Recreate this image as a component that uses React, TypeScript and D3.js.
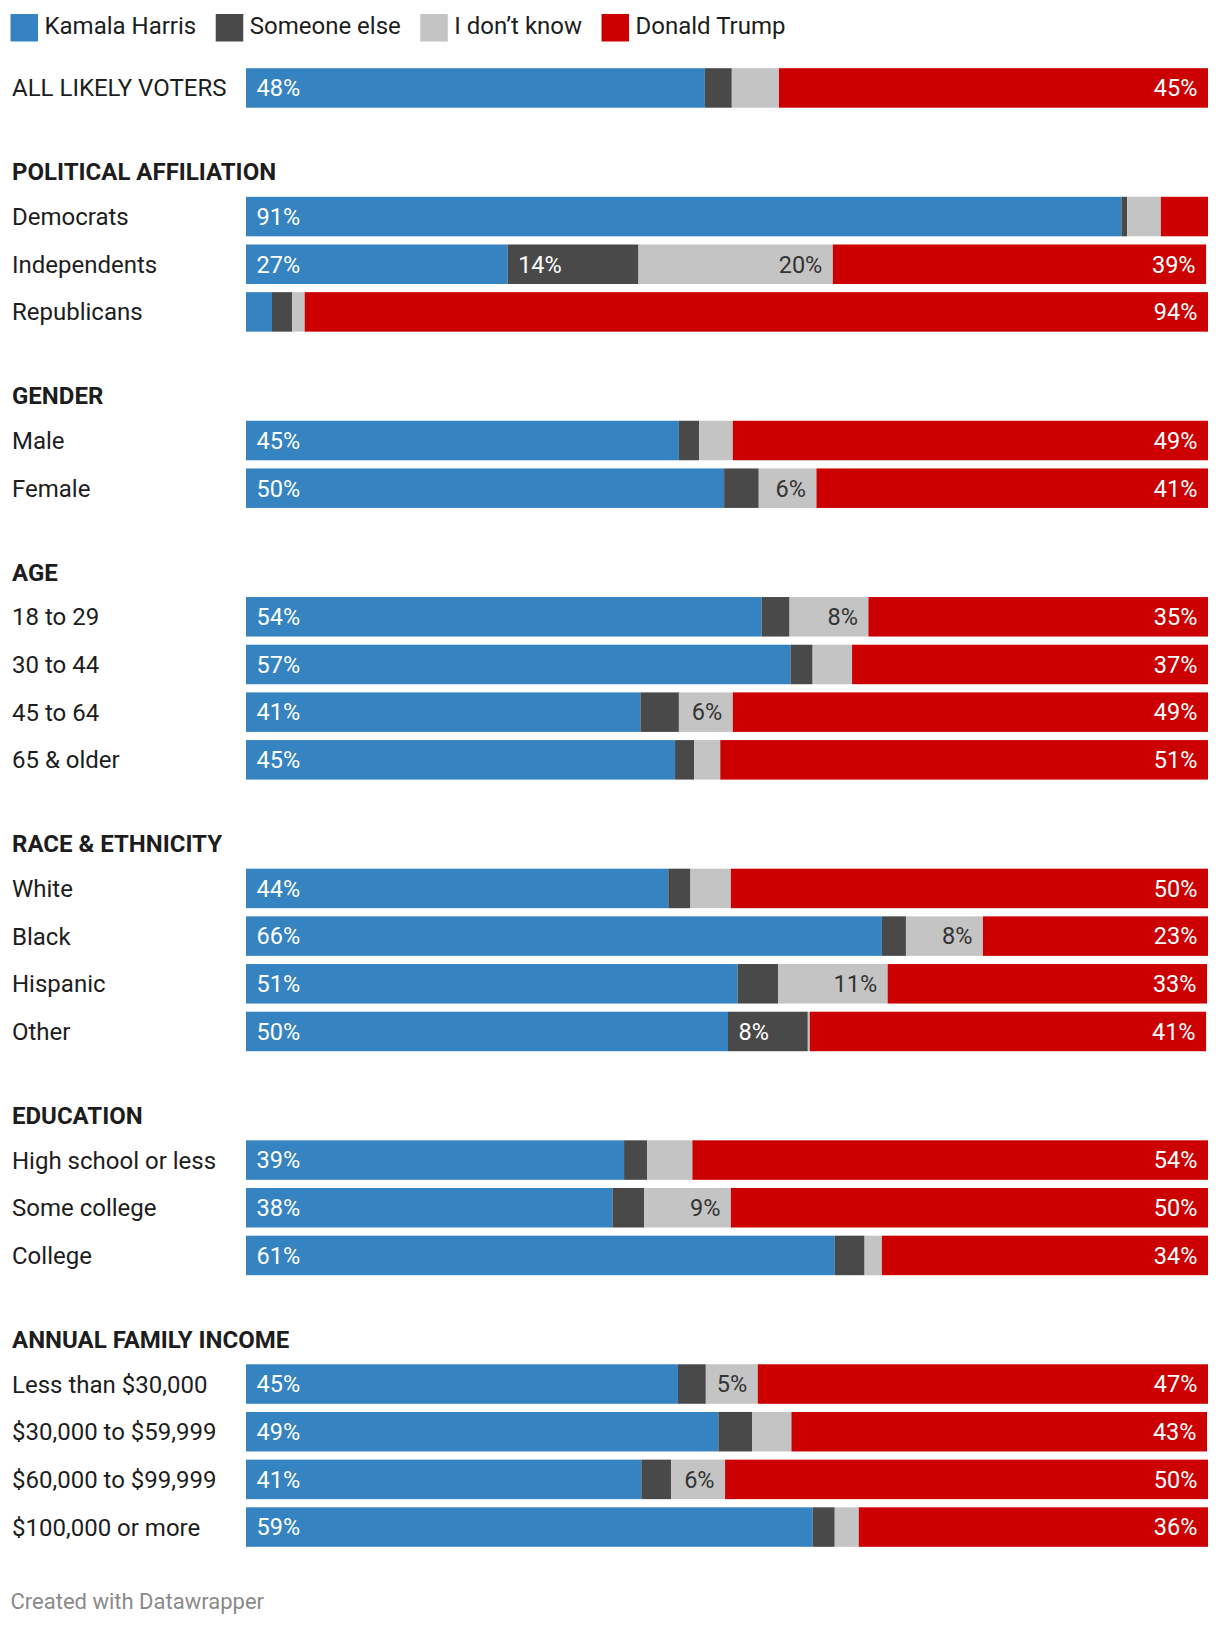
import React, { useEffect, useRef } from "react";
import * as d3 from "d3";

const seriesNames = ["Kamala Harris", "Someone else", "I don’t know", "Donald Trump"];
const seriesColors = ["#3583c1", "#494949", "#c4c4c4", "#cc0000"];
const labelColors = ["#ffffff", "#ffffff", "#333333", "#ffffff"];
const labelAlign = ["start", "start", "end", "end"];

const groupTitles = [
  "",
  "POLITICAL AFFILIATION",
  "GENDER",
  "AGE",
  "RACE & ETHNICITY",
  "EDUCATION",
  "ANNUAL FAMILY INCOME",
];

const categories = [
  "ALL LIKELY VOTERS",
  "Democrats",
  "Independents",
  "Republicans",
  "Male",
  "Female",
  "18 to 29",
  "30 to 44",
  "45 to 64",
  "65 & older",
  "White",
  "Black",
  "Hispanic",
  "Other",
  "High school or less",
  "Some college",
  "College",
  "Less than $30,000",
  "$30,000 to $59,999",
  "$60,000 to $99,999",
  "$100,000 or more",
];

const categoryGroup = [0, 1, 1, 1, 2, 2, 3, 3, 3, 3, 4, 4, 4, 4, 5, 5, 5, 6, 6, 6, 6];

const harris = [47.7, 91.0, 27.2, 2.7, 45.0, 49.7, 53.6, 56.6, 41.0, 44.6, 43.9, 66.1, 51.1, 50.1, 39.3, 38.1, 61.2, 44.9, 49.1, 41.1, 58.9];
const someoneElse = [2.8, 0.6, 13.6, 2.1, 2.1, 3.6, 2.9, 2.3, 4.0, 2.0, 2.3, 2.5, 4.2, 8.3, 2.4, 3.3, 3.1, 2.9, 3.5, 3.1, 2.3];
const dontKnow = [4.9, 3.5, 20.2, 1.3, 3.5, 6.0, 8.2, 4.1, 5.6, 2.7, 4.2, 8.0, 11.4, 0.2, 4.7, 9.0, 1.8, 5.4, 4.1, 5.6, 2.5];
const trump = [44.6, 4.9, 38.8, 93.9, 49.4, 40.7, 35.3, 37.0, 49.4, 50.7, 49.6, 23.4, 33.2, 41.2, 53.6, 49.6, 33.9, 46.8, 43.2, 50.2, 36.3];

const footerText = "Created with Datawrapper";

export default function App() {
  const ref = useRef<SVGSVGElement>(null);

  useEffect(() => {
    const svg = d3.select(ref.current);
    svg.selectAll("*").remove();
    const font = "Roboto, 'Noto Sans', sans-serif";
    const fs = 24;

    const x = d3.scaleLinear().domain([0, 100]).range([246, 1208]);

    const table = categories.map((c, i) => ({
      category: c,
      group: categoryGroup[i],
      [seriesNames[0]]: harris[i],
      [seriesNames[1]]: someoneElse[i],
      [seriesNames[2]]: dontKnow[i],
      [seriesNames[3]]: trump[i],
    }));

    const stack = d3.stack<any>().keys(seriesNames);
    const stacked = stack(table);

    // vertical layout
    const barH = 39.5;
    const pitch = 47.68;
    const groupGap = 89.1;
    const firstTop = 68.2;
    const tops: number[] = [];
    let yy = firstTop;
    table.forEach((r, i) => {
      if (i > 0) yy += r.group !== table[i - 1].group ? barH + groupGap : pitch;
      tops.push(yy);
    });

    // legend
    const legend = svg.append("g");
    let cx = 10.5;
    seriesNames.forEach((name, k) => {
      legend
        .append("rect")
        .attr("x", cx)
        .attr("y", 14)
        .attr("width", 27.5)
        .attr("height", 27.5)
        .attr("fill", seriesColors[k]);
      const t = legend
        .append("text")
        .attr("x", cx + 34)
        .attr("y", 34.3)
        .attr("font-family", font)
        .attr("font-size", fs)
        .attr("fill", "#1d1d1d")
        .text(name);
      const w = (t.node() as SVGTextElement).getComputedTextLength();
      cx = cx + 34 + w + 19.5;
    });

    // group headers
    groupTitles.forEach((title, g) => {
      if (!title) return;
      const firstIdx = categoryGroup.indexOf(g);
      svg
        .append("text")
        .attr("x", 12)
        .attr("y", tops[firstIdx] - 24.9)
        .attr("dy", "0.355em")
        .attr("font-family", font)
        .attr("font-size", fs)
        .attr("font-weight", 700)
        .attr("fill", "#1d1d1d")
        .text(title);
    });

    // category labels
    svg
      .append("g")
      .selectAll("text")
      .data(table)
      .join("text")
      .attr("x", 12)
      .attr("y", (_d, i) => tops[i] + barH / 2)
      .attr("dy", "0.355em")
      .attr("font-family", font)
      .attr("font-size", fs)
      .attr("fill", "#1d1d1d")
      .text((d) => d.category);

    // bars
    const bars = svg.append("g");
    stacked.forEach((layer, k) => {
      bars
        .append("g")
        .selectAll("rect")
        .data(layer)
        .join("rect")
        .attr("x", (d) => x(d[0]))
        .attr("y", (_d, i) => tops[i])
        .attr("width", (d) => Math.max(0, x(d[1]) - x(d[0])))
        .attr("height", barH)
        .attr("fill", seriesColors[k]);
    });

    // value labels
    const labels = svg.append("g");
    const pad = 10.5;
    stacked.forEach((layer, k) => {
      layer.forEach((d, i) => {
        const v = d[1] - d[0];
        const x0 = x(d[0]);
        const x1 = x(d[1]);
        const t = labels
          .append("text")
          .attr("x", labelAlign[k] === "start" ? x0 + pad : x1 - pad)
          .attr("y", tops[i] + barH / 2)
          .attr("dy", "0.355em")
          .attr("text-anchor", labelAlign[k])
          .attr("font-family", font)
          .attr("font-size", 23.5)
          .attr("fill", labelColors[k])
          .text(`${Math.round(v)}%`);
        const w = (t.node() as SVGTextElement).getComputedTextLength();
        if (w + 18 > x1 - x0) t.remove();
      });
    });

    // footer
    svg
      .append("text")
      .attr("x", 10.5)
      .attr("y", 1600.7)
      .attr("dy", "0.355em")
      .attr("font-family", font)
      .attr("font-size", 22)
      .attr("fill", "#8a8a8a")
      .text(footerText);
  }, []);

  return (
    <div style={{ position: "absolute", left: 0, top: 0, width: 1220, height: 1626, background: "#fff" }}>
      <svg ref={ref} width={1220} height={1626} style={{ display: "block" }} />
    </div>
  );
}
